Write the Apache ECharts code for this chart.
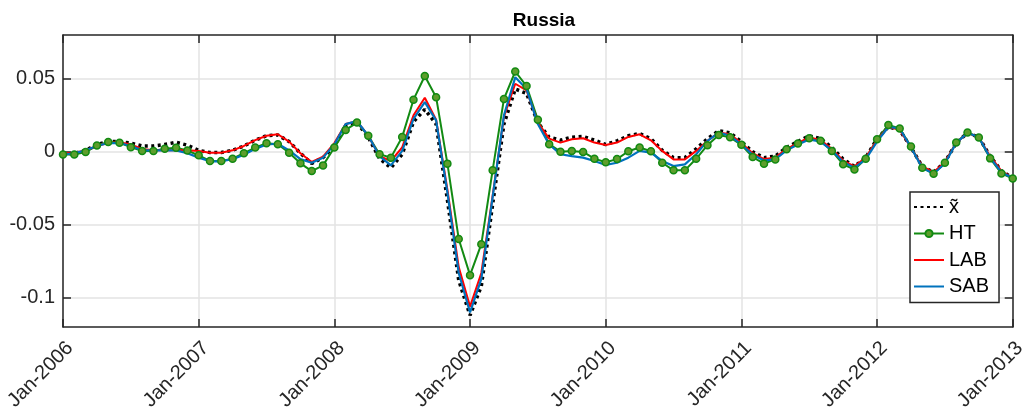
<!DOCTYPE html>
<html>
<head>
<meta charset="utf-8">
<script src="https://cdn.jsdelivr.net/npm/echarts@6/dist/echarts.min.js"></script>
<style>
  html, body { margin: 0; padding: 0; background: #fff; }
  #chart { width: 1029px; height: 414px; }
</style>
</head>
<body>
<div id="chart"></div>
<script>
// monthly points, Jan-2006 .. Jan-2013 (85 values)
const years = ['2006', '2007', '2008', '2009', '2010', '2011', '2012', '2013'];
const yTicks = [-0.1, -0.05, 0, 0.05];

const xTilde = [
  -0.002, -0.001, 0.001, 0.005, 0.007, 0.007, 0.006, 0.004, 0.004, 0.005, 0.0065, 0.0045,
  0.001, -0.0005, -0.0005, 0.001, 0.004, 0.008, 0.011, 0.0115, 0.007, -0.001, -0.008, -0.004,
  0.004, 0.018, 0.020, 0.010, -0.0047, -0.011, -0.0017, 0.0205, 0.029, 0.019, -0.033, -0.088,
  -0.112, -0.092, -0.036, 0.019, 0.043, 0.040, 0.020, 0.010, 0.008, 0.010, 0.0105, 0.008,
  0.005, 0.0075, 0.011, 0.0125, 0.009, 0.001, -0.004, -0.004, 0.002, 0.009, 0.0145, 0.013,
  0.007, 0.000, -0.004, -0.003, 0.003, 0.007, 0.011, 0.009, 0.003, -0.005, -0.010, -0.004,
  0.009, 0.017, 0.015, 0.003, -0.010, -0.014, -0.007, 0.006, 0.013, 0.010, -0.003, -0.013,
  -0.018
];

const ht = [
  -0.0019, -0.0019, -0.0002, 0.0043, 0.0067, 0.0062, 0.0032, 0.0005, 0.0005, 0.0021, 0.0028, 0.0009,
  -0.0024, -0.0063, -0.0063, -0.0047, -0.001, 0.0029, 0.0059, 0.0052, -0.0006, -0.0079, -0.0132, -0.0093,
  0.0029, 0.015, 0.020, 0.011, -0.0017, -0.004, 0.0102, 0.0357, 0.0519, 0.0374, -0.0081, -0.0597,
  -0.0845, -0.0633, -0.0126, 0.0362, 0.055, 0.045, 0.0219, 0.0052, 0.0001, 0.0006, -0.0001, -0.0047,
  -0.0072, -0.005, 0.0004, 0.0029, 0.0004, -0.0075, -0.0127, -0.0127, -0.0048, 0.0045, 0.0115, 0.0099,
  0.0048, -0.0036, -0.0081, -0.0052, 0.0017, 0.0057, 0.0093, 0.0075, 0.0006, -0.0086, -0.0121, -0.0047,
  0.0086, 0.0183, 0.016, 0.0036, -0.011, -0.015, -0.0075, 0.0064, 0.0132, 0.0098, -0.0045, -0.0148,
  -0.0183
];

const lab = [
  -0.001, -0.0008, 0.001, 0.004, 0.006, 0.0065, 0.005, 0.002, 0.001, 0.001, 0.001, 0.001,
  0.0006, -0.0006, -0.0006, 0.001, 0.004, 0.008, 0.011, 0.012, 0.007, -0.001, -0.007, -0.0033,
  0.006, 0.019, 0.021, 0.011, -0.003, -0.0063, 0.003, 0.025, 0.037, 0.022, -0.026, -0.079,
  -0.106, -0.083, -0.030, 0.024, 0.0466, 0.042, 0.020, 0.009, 0.0063, 0.0086, 0.0093, 0.0063,
  0.0047, 0.0063, 0.0102, 0.012, 0.0079, 0.0006, -0.0052, -0.0052, 0.0006, 0.0075, 0.0132, 0.012,
  0.006, -0.001, -0.005, -0.004, 0.002, 0.006, 0.010, 0.008, 0.002, -0.006, -0.010, -0.004,
  0.008, 0.017, 0.015, 0.003, -0.010, -0.014, -0.007, 0.006, 0.013, 0.010, -0.003, -0.013,
  -0.018
];

const sab = [
  -0.002, -0.001, 0.001, 0.004, 0.006, 0.006, 0.004, 0.001, 0.001, 0.001, 0.001, -0.001,
  -0.004, -0.0065, -0.0065, -0.005, -0.002, 0.002, 0.005, 0.0055, 0.001, -0.005, -0.0075, -0.004,
  0.005, 0.019, 0.021, 0.011, -0.003, -0.0093, 0.0006, 0.0225, 0.034, 0.0215, -0.028, -0.083,
  -0.110, -0.087, -0.031, 0.025, 0.051, 0.043, 0.019, 0.005, -0.0017, -0.003, -0.004, -0.0063,
  -0.009, -0.0075, -0.004, 0.0006, -0.0006, -0.0063, -0.0098, -0.0086, -0.0017, 0.0075, 0.0132, 0.0109,
  0.005, -0.002, -0.006, -0.005, 0.001, 0.005, 0.0085, 0.007, 0.001, -0.007, -0.011, -0.005,
  0.007, 0.017, 0.016, 0.003, -0.011, -0.015, -0.008, 0.006, 0.013, 0.010, -0.004, -0.014,
  -0.018
];

const pairs = (arr) => arr.map((v, i) => [i, v]);

const FONT = "'Liberation Sans', Arial, sans-serif";
const AXIS_COLOR = '#262626';
const noMarker = { opacity: 0 };

const chart = echarts.init(document.getElementById('chart'));
chart.setOption({
  animation: false,
  title: {
    text: 'Russia',
    left: 539,
    textAlign: 'center',
    top: 6,
    textStyle: { fontFamily: FONT, fontSize: 19, fontWeight: 'bold', color: '#000' },
  },
  grid: { left: 63, right: 14, top: 35, bottom: 87, containLabel: false },
  legend: {
    orient: 'vertical',
    left: 910,
    top: 192,
    itemWidth: 30,
    itemHeight: 9,
    itemGap: 6.5,
    padding: [5, 10, 6, 3],
    borderColor: AXIS_COLOR,
    borderWidth: 1.5,
    backgroundColor: '#fff',
    textStyle: { fontFamily: FONT, fontSize: 20, color: '#000', lineHeight: 20 },
    data: [
      { name: 'x\u0303', itemStyle: noMarker },
      { name: 'HT' },
      { name: 'LAB', itemStyle: noMarker },
      { name: 'SAB', itemStyle: noMarker },
    ],
  },
  xAxis: [
    {
      type: 'value',
      min: 0,
      max: 84,
      interval: 12,
      axisLine: { show: true, onZero: false, lineStyle: { color: AXIS_COLOR, width: 1.5 } },
      axisTick: { inside: true, length: 8, lineStyle: { color: AXIS_COLOR, width: 1.5 } },
      axisLabel: {
        rotate: 45,
        margin: 11,
        align: 'right',
        verticalAlign: 'top',
        fontFamily: FONT,
        fontSize: 20,
        color: AXIS_COLOR,
        formatter: (v) => 'Jan-' + years[Math.round(v / 12)],
      },
      splitLine: { show: true, lineStyle: { color: '#e3e3e3', width: 1.5 } },
    },
    {
      type: 'value',
      position: 'top',
      min: 0,
      max: 84,
      interval: 12,
      axisLine: { show: true, onZero: false, lineStyle: { color: AXIS_COLOR, width: 1.5 } },
      axisTick: { inside: true, length: 8, lineStyle: { color: AXIS_COLOR, width: 1.5 } },
      axisLabel: { show: false },
      splitLine: { show: false },
    },
  ],
  yAxis: [
    {
      type: 'value',
      min: -0.12,
      max: 0.08,
      axisLine: { show: true, onZero: false, lineStyle: { color: AXIS_COLOR, width: 1.5 } },
      axisTick: { show: true, inside: true, length: 8, customValues: yTicks, lineStyle: { color: AXIS_COLOR, width: 1.5 } },
      axisLabel: {
        customValues: yTicks,
        margin: 8,
        fontFamily: FONT,
        fontSize: 20,
        color: AXIS_COLOR,
        formatter: (v) => String(v),
      },
      splitLine: { show: true, lineStyle: { color: '#e3e3e3', width: 1.5 } },
    },
    {
      type: 'value',
      position: 'right',
      min: -0.12,
      max: 0.08,
      axisLine: { show: true, onZero: false, lineStyle: { color: AXIS_COLOR, width: 1.5 } },
      axisTick: { show: true, inside: true, length: 8, customValues: yTicks, lineStyle: { color: AXIS_COLOR, width: 1.5 } },
      axisLabel: { show: false, customValues: yTicks },
      splitLine: { show: false },
    },
  ],
  series: [
    {
      name: 'x\u0303',
      type: 'line',
      data: pairs(xTilde),
      symbol: 'none',
      lineStyle: { color: '#000', width: 3.5, type: [3, 3.5] },
      itemStyle: { color: '#000' },
    },
    {
      name: 'HT',
      type: 'line',
      data: pairs(ht),
      symbol: 'circle',
      symbolSize: 7,
      lineStyle: { color: '#128a12', width: 2 },
      itemStyle: { color: '#5e9e2c', borderColor: '#128a12', borderWidth: 1.5 },
    },
    {
      name: 'LAB',
      type: 'line',
      data: pairs(lab),
      symbol: 'none',
      lineStyle: { color: '#ff0000', width: 2 },
      itemStyle: { color: '#ff0000' },
    },
    {
      name: 'SAB',
      type: 'line',
      data: pairs(sab),
      symbol: 'none',
      lineStyle: { color: '#0072bd', width: 2.2 },
      itemStyle: { color: '#0072bd' },
    },
  ],
});
</script>
</body>
</html>
